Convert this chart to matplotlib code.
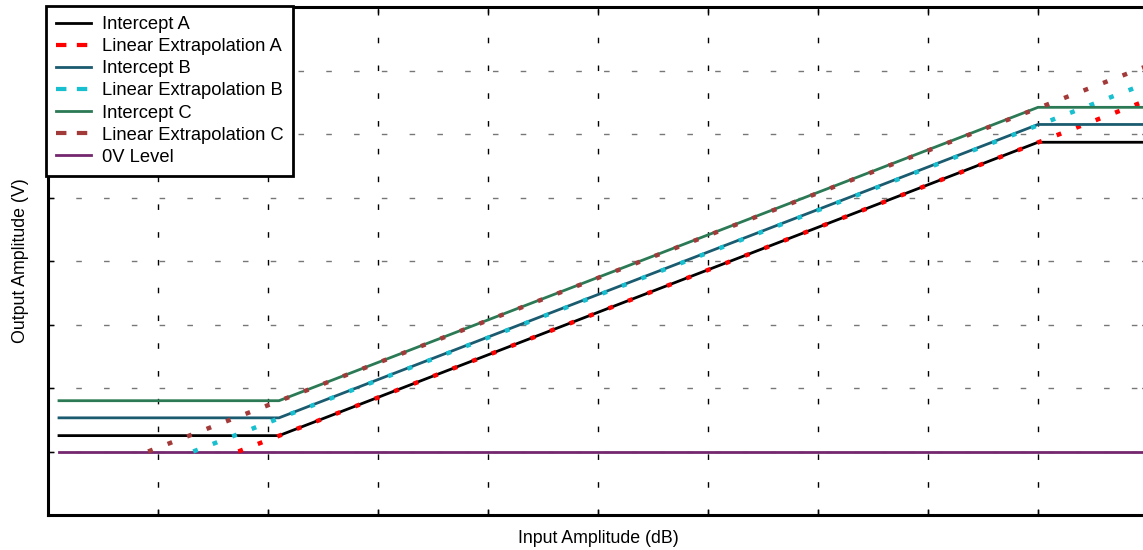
import matplotlib
matplotlib.use('Agg')
import matplotlib.pyplot as plt
from matplotlib.lines import Line2D

plt.rcParams['font.family'] = ['Liberation Sans', 'DejaVu Sans']

# piecewise intercept curves (input dB -> output V)
knee_x = [0.1, 2.1, 9.0, 10.2]
intercept_a = [1.25, 1.25, 5.87, 5.87]
intercept_b = [1.53, 1.53, 6.15, 6.15]
intercept_c = [1.80, 1.80, 6.42, 6.42]

# linear extrapolations (start on 0V level, run past the right edge)
extrap_x_a = [1.73, 10.2]
extrap_y_a = [1.0, 6.67]
extrap_x_b = [1.32, 10.2]
extrap_y_b = [1.0, 6.94]
extrap_x_c = [0.91, 10.2]
extrap_y_c = [1.0, 7.21]

zero_x = [0.1, 10.2]
zero_y = [1.0, 1.0]

col_a, col_ea = 'black', '#ff0000'
col_b, col_eb = '#1b5b70', '#17bfcf'
col_c, col_ec = '#2b7a55', '#a33a3a'
col_0 = '#74276f'

fig = plt.figure(figsize=(11.43, 5.5), dpi=100)
ax = fig.add_axes([48 / 1143, 35 / 550, 1100 / 1143, 508 / 550])

dots = (0, (1.1, 3.6))
ax.plot(zero_x, zero_y, color=col_0, lw=2.0)
ax.plot(knee_x, intercept_a, color=col_a, lw=2.0)
ax.plot(extrap_x_a, extrap_y_a, color=col_ea, lw=3.2, linestyle=dots)
ax.plot(knee_x, intercept_b, color=col_b, lw=2.0)
ax.plot(extrap_x_b, extrap_y_b, color=col_eb, lw=3.2, linestyle=dots)
ax.plot(knee_x, intercept_c, color=col_c, lw=2.0)
ax.plot(extrap_x_c, extrap_y_c, color=col_ec, lw=3.2, linestyle=dots)

ax.set_xlim(0, 10)
ax.set_ylim(0, 8)
ax.set_xticks(range(1, 10))
ax.set_yticks(range(1, 8))
ax.tick_params(direction='in', length=4, labelbottom=False, labelleft=False,
               top=True, right=True, width=1)
ax.xaxis.grid(True, color='black', linestyle=(0, (4, 16)), lw=1)
ax.yaxis.grid(True, color='#777777', linestyle=(0, (4, 16)), lw=1)
for s in ax.spines.values():
    s.set_linewidth(2.2)

ax.set_xlabel('Input Amplitude (dB)', fontsize=12.8, labelpad=11)
ax.set_ylabel('Output Amplitude (V)', fontsize=12.8, labelpad=14)

handles = [
    Line2D([], [], color=col_a, lw=2),
    Line2D([], [], color=col_ea, lw=3, linestyle=(0, (2.5, 2.5))),
    Line2D([], [], color=col_b, lw=2),
    Line2D([], [], color=col_eb, lw=3, linestyle=(0, (2.5, 2.5))),
    Line2D([], [], color=col_c, lw=2),
    Line2D([], [], color=col_ec, lw=3, linestyle=(0, (2.5, 2.5))),
    Line2D([], [], color=col_0, lw=2),
]
labels = ['Intercept A', 'Linear Extrapolation A', 'Intercept B',
          'Linear Extrapolation B', 'Intercept C', 'Linear Extrapolation C',
          '0V Level']
leg = ax.legend(handles, labels, loc='upper left', bbox_to_anchor=(-0.002, 1.002),
                fontsize=13.2, fancybox=False, framealpha=1, edgecolor='black',
                labelspacing=0.28, handlelength=1.9, handletextpad=0.6,
                borderpad=0.55, borderaxespad=0)
leg.get_frame().set_linewidth(2)

fig.savefig('out.png', dpi=100)
